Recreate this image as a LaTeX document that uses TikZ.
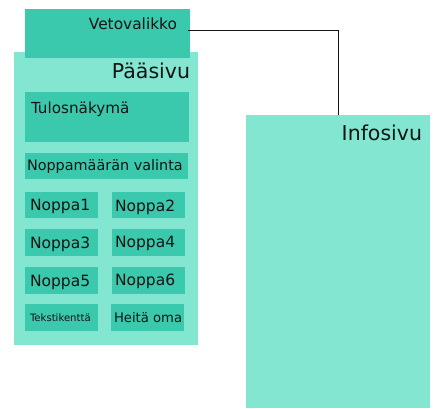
\documentclass[tikz,border=0pt]{standalone}
\usepackage{fontspec}
\setmainfont{DejaVu Sans}
\definecolor{dark}{RGB}{58,201,172}
\definecolor{light}{RGB}{130,230,208}
\definecolor{ink}{RGB}{20,20,20}
\begin{document}
\begin{tikzpicture}[x=1pt,y=-1pt,
  box/.style={draw=none,inner sep=0,outer sep=0,anchor=north west},
  lbox/.style={box,fill=light},
  dbox/.style={box,fill=dark},
  txt/.style={inner sep=0,outer sep=0,text=ink}]
\useasboundingbox (0,0) rectangle (433,408);
% main page
\node[lbox,minimum width=184pt,minimum height=293pt] (main) at (14,52) {};
\node[dbox,minimum width=165pt,minimum height=49pt] (veto) at (25,9) {};
\node[lbox,minimum width=184pt,minimum height=293pt] (info) at (246,115) {};
\node[dbox,minimum width=164pt,minimum height=50pt] (tulos) at (25,92) {};
\node[dbox,minimum width=163pt,minimum height=26pt] (valinta) at (25,153) {};
\node[dbox,minimum width=73pt,minimum height=26pt] (n1) at (25,192) {};
\node[dbox,minimum width=73pt,minimum height=26pt] (n2) at (112,192) {};
\node[dbox,minimum width=73pt,minimum height=27pt] (n3) at (25,229) {};
\node[dbox,minimum width=73pt,minimum height=27pt] (n4) at (112,229) {};
\node[dbox,minimum width=73pt,minimum height=27pt] (n5) at (25,267) {};
\node[dbox,minimum width=73pt,minimum height=27pt] (n6) at (112,267) {};
\node[dbox,minimum width=73pt,minimum height=27pt] (teksti) at (25,304) {};
\node[dbox,minimum width=73pt,minimum height=27pt] (heita) at (111,304) {};
% texts
\node[txt,anchor=base east,font=\fontsize{15.4}{15}\selectfont] (tveto) at (177,29) {Vetovalikko};
\node[txt,anchor=base east,font=\fontsize{20.5}{20}\selectfont] (tmain) at (190,78) {Pääsivu};
\node[txt,anchor=base east,font=\fontsize{20.5}{20}\selectfont] (tinfo) at (422,140) {Infosivu};
\node[txt,anchor=base west,font=\fontsize{15.2}{15}\selectfont] (ttulos) at (31,113) {Tulosnäkymä};
\node[txt,anchor=base west,font=\fontsize{14.4}{14}\selectfont] (tvalinta) at (27,170) {Noppamäärän valinta};
\node[txt,anchor=base west,font=\fontsize{15.5}{15}\selectfont] (tn1) at (30,210) {Noppa1};
\node[txt,anchor=base west,font=\fontsize{15.5}{15}\selectfont] (tn2) at (115,211) {Noppa2};
\node[txt,anchor=base west,font=\fontsize{15.5}{15}\selectfont] (tn3) at (30,248) {Noppa3};
\node[txt,anchor=base west,font=\fontsize{15.5}{15}\selectfont] (tn4) at (115,247) {Noppa4};
\node[txt,anchor=base west,font=\fontsize{15.5}{15}\selectfont] (tn5) at (30,286) {Noppa5};
\node[txt,anchor=base west,font=\fontsize{15.5}{15}\selectfont] (tn6) at (115,285) {Noppa6};
\node[txt,anchor=base west,font=\fontsize{10.1}{10}\selectfont] (tteksti) at (30,321) {Tekstikenttä};
\node[txt,anchor=base west,font=\fontsize{13.2}{13}\selectfont] (theita) at (114,322) {Heitä oma};
% connector
\draw[line width=0.8pt,color=ink] ([xshift=-2pt,yshift=-21pt]veto.north east) -| (info.north);
\end{tikzpicture}
\end{document}
